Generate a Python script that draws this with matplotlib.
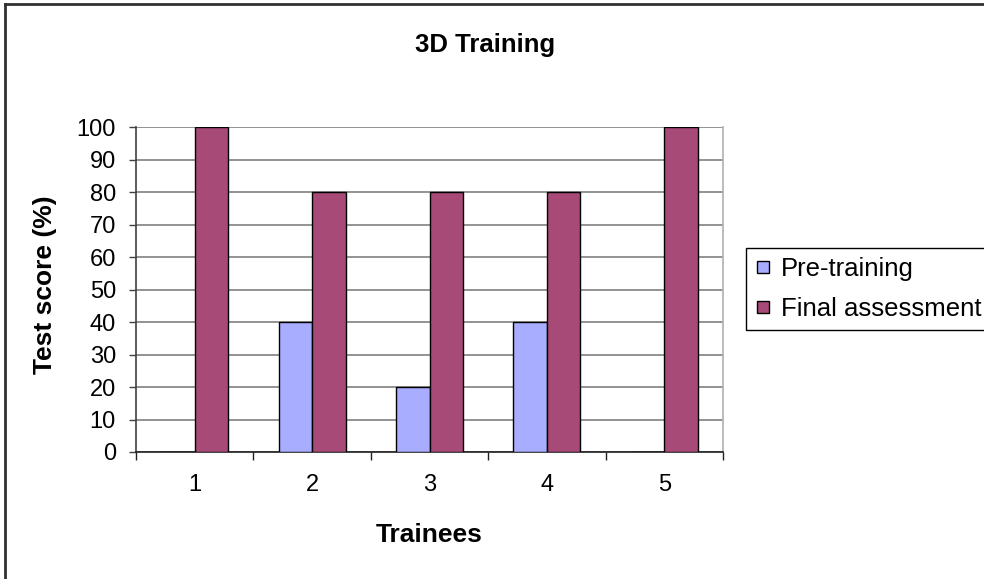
import numpy as np
import matplotlib
matplotlib.use('Agg')
import matplotlib.pyplot as plt
from matplotlib.lines import Line2D

trainees = ['1', '2', '3', '4', '5']
pre_training = [0, 40, 20, 40, 0]
final_assessment = [100, 80, 80, 80, 100]
yticks = [0, 10, 20, 30, 40, 50, 60, 70, 80, 90, 100]

plt.rcParams['font.family'] = ['Liberation Sans', 'DejaVu Sans']

fig = plt.figure(figsize=(9.84, 5.79), dpi=100)
fig.patch.set_facecolor('white')
ax = fig.add_axes([136/984, 1-452/579, 587/984, 325/579])

x = np.arange(1, len(trainees) + 1)
w = 0.285
ax.bar(x - w, pre_training, width=w, align='edge', color='#A9ADFF',
       edgecolor='black', linewidth=1, zorder=3, label='Pre-training')
ax.bar(x, final_assessment, width=w, align='edge', color='#A84A77',
       edgecolor='black', linewidth=1, zorder=3, label='Final assessment')

ax.set_xlim(0.5, len(trainees) + 0.5)
ax.set_ylim(0, 100)
ax.set_yticks(yticks)
ax.set_yticklabels([str(v) for v in yticks], fontsize=17)
ax.yaxis.grid(True, color='#808080', linewidth=1.2, zorder=0)

# category labels centered, tick marks on the category boundaries
ax.set_xticks(x)
ax.set_xticklabels(trainees, fontsize=17)
ax.tick_params(axis='x', which='major', length=0, pad=16)
ax.set_xticks(np.arange(0.5, len(trainees) + 1, 1), minor=True)
ax.tick_params(axis='x', which='minor', length=6, width=1, color='#202020')
ax.tick_params(axis='y', length=5, width=1, pad=9.5, color='#404040')

ax.spines['top'].set_visible(False)
ax.spines['right'].set_color('#B0B0B0')
ax.spines['left'].set_color('#404040')
ax.spines['bottom'].set_color('#202020')
for s in ax.spines.values():
    s.set_linewidth(1.2)

ax.set_xlabel('Trainees', fontsize=19, fontweight='bold', va='center')
ax.xaxis.set_label_coords((429-136)/587, (452-535)/325)
ax.set_ylabel('Test score (%)', fontsize=19, fontweight='bold', va='center')
ax.yaxis.set_label_coords((45-136)/587, (452-285)/325)

fig.text(485/984, 1-45/579, '3D Training', fontsize=18.5, fontweight='bold',
         ha='center', va='center')

handles = [Line2D([], [], marker='s', linestyle='none', markersize=8,
                  markerfacecolor=c, markeredgecolor='black', markeredgewidth=1)
           for c in ['#A9ADFF', '#A84A77']]
leg = fig.legend(handles, ['Pre-training', 'Final assessment'], loc='upper left',
                 bbox_to_anchor=(746/984, 1-248/579), fontsize=18.5, frameon=True,
                 fancybox=False, edgecolor='black', framealpha=1,
                 handlelength=0.6, handletextpad=0.4, borderpad=0.35,
                 labelspacing=0.62, borderaxespad=0)
leg.get_frame().set_linewidth(1)

# outer chart border (only top and left visible in the crop)
fig.add_artist(Line2D([5/984, 5/984], [0, 1-4/579], color='#303030', linewidth=2,
                      transform=fig.transFigure))
fig.add_artist(Line2D([5/984, 1], [1-4/579, 1-4/579], color='#303030', linewidth=2,
                      transform=fig.transFigure))

fig.savefig('out.png', dpi=100)
